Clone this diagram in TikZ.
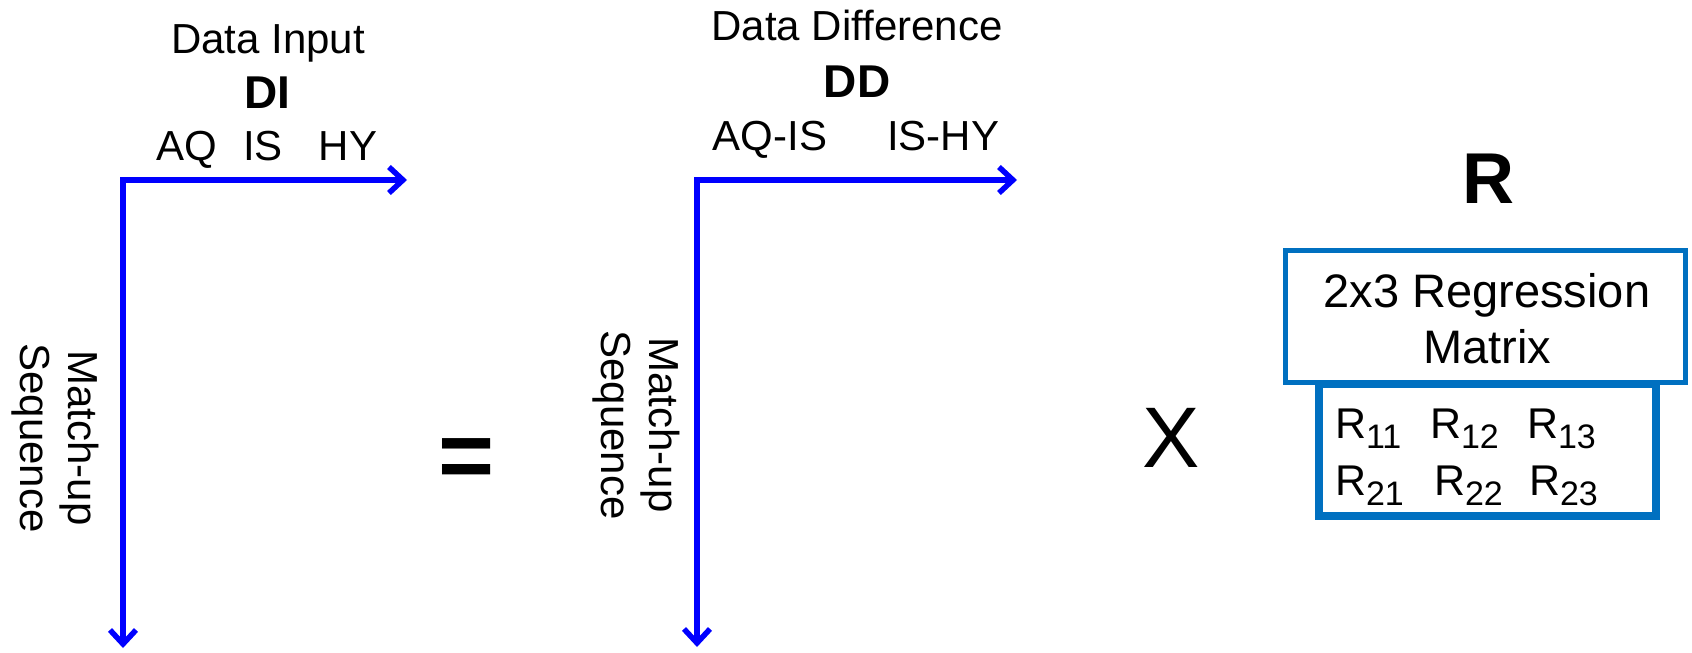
\documentclass[tikz,border=0pt]{standalone}
\usepackage{fontspec}
\setmainfont{Liberation Sans}
\usetikzlibrary{arrows.meta}
\definecolor{axisblue}{RGB}{0,0,255}
\definecolor{boxblue}{RGB}{0,112,192}
% matrix entry: R with a lowered index
\newcommand{\rsubent}[1]{R\raisebox{-10pt}{\fontsize{34}{34}\selectfont #1}}

\begin{document}
\begin{tikzpicture}[x=1pt, y=-1pt, inner sep=0pt, outer sep=0pt,
  axis/.style={draw=axisblue, line width=6pt, line join=miter,
    {Straight Barb[length=14pt,width=26pt,line width=5.5pt]}-{Straight Barb[length=14pt,width=26pt,line width=5.5pt]}},
  lbl/.style={font=\fontsize{42}{48}\selectfont, anchor=base},
  boldlbl/.style={font=\fontsize{46}{52}\selectfont\bfseries, anchor=base},
  sidelbl/.style={font=\fontsize{42}{48}\selectfont, align=center, rotate=-90},
  entry/.style={font=\fontsize{43}{48}\selectfont, anchor=base west},
  framebox/.style={draw=boxblue},
]
\useasboundingbox (0,0) rectangle (1692,653);

% ---- Data input axes ----
\coordinate (diCorner) at (123,180);
\coordinate (diTipH) at (407,180);
\coordinate (diTipV) at (123,648);
\draw[axis] (diTipV) -- (diCorner) -- (diTipH);
\node[lbl] (diTitle) at (268,53) {Data Input};
\node[boldlbl] (diName) at (267,108) {DI};
\node[lbl] (diAQ) at (187,160) {AQ};
\node[lbl] (diIS) at (263,160) {IS};
\node[lbl] (diHY) at (348,160) {HY};
\node[sidelbl] (diSeq) at (55,438) {Match-up\\Sequence};

% ---- equals sign ----
\node[font=\fontsize{96}{96}\selectfont\bfseries] (eq) at (467,464) {=};

% ---- Data difference axes ----
\coordinate (ddCorner) at (697,180);
\coordinate (ddTipH) at (1017,180);
\coordinate (ddTipV) at (697,647);
\draw[axis] (ddTipV) -- (ddCorner) -- (ddTipH);
\node[lbl] (ddTitle) at (857,40) {Data Difference};
\node[boldlbl] (ddName) at (857,97) {DD};
\node[lbl] (ddAI) at (770,150) {AQ-IS};
\node[lbl] (ddIH) at (943,150) {IS-HY};
\node[sidelbl] (ddSeq) at (636,425) {Match-up\\Sequence};

% ---- times sign ----
\node[font=\fontsize{86}{86}\selectfont, anchor=base] (times) at (1171,467) {X};

% ---- regression matrix ----
\node[font=\fontsize{72}{72}\selectfont\bfseries, anchor=base] (rName) at (1488,203) {R};
\draw[framebox, line width=5pt] (1285.5,250.5) rectangle (1685.5,382.5);
\node[lbl, font=\fontsize{47}{52}\selectfont] (rDesc1) at (1487,307) {2x3 Regression};
\node[lbl, font=\fontsize{47}{52}\selectfont] (rDesc2) at (1487,363) {Matrix};
\draw[framebox, line width=8pt, fill=white] (1319,384) rectangle (1656,516);
\node[entry] (r11) at (1335,438) {\rsubent{11}};
\node[entry] (r12) at (1430,438) {\rsubent{12}};
\node[entry] (r13) at (1527,438) {\rsubent{13}};
\node[entry] (r21) at (1335,495) {\rsubent{21}};
\node[entry] (r22) at (1434,495) {\rsubent{22}};
\node[entry] (r23) at (1529,495) {\rsubent{23}};
\end{tikzpicture}
\end{document}
